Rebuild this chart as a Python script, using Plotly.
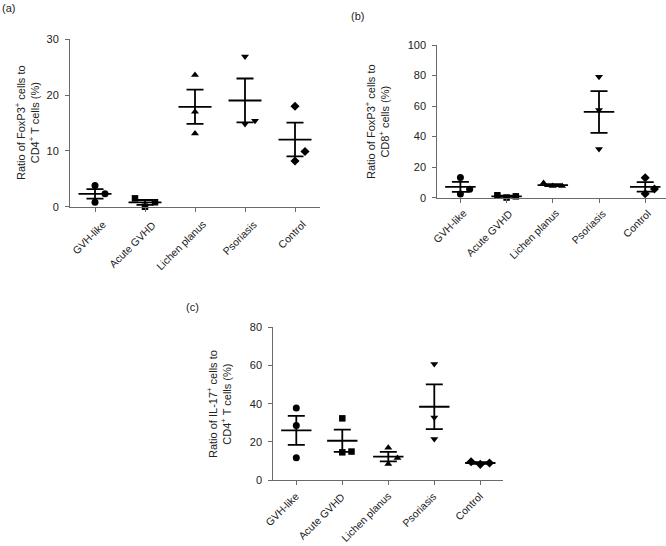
import numpy as np
import plotly.graph_objects as go

# ---------------- data ----------------
categories = ["GVH-like", "Acute GVHD", "Lichen planus", "Psoriasis", "Control"]

# (a) FoxP3+ / CD4+ T cells (%)
a_gvh = [3.8, 0.8, 2.3]
a_acute = [1.5, 0.0, 0.8]
a_lichen = [23.6, 17.0, 13.1]
a_psoriasis = [26.9, 14.8, 15.4]
a_control = [18.0, 9.9, 8.2]

# (b) FoxP3+ / CD8+ cells (%)
b_gvh = [13.3, 2.4, 5.5]
b_acute = [1.6, 0.1, 0.9]
b_lichen = [9.6, 7.6, 7.6]
b_psoriasis = [79.2, 57.4, 31.9]
b_control = [13.1, 2.6, 5.7]

# (c) IL-17+ / CD4+ T cells (%)
c_gvh = [37.7, 28.5, 11.7]
c_acute = [32.3, 14.5, 14.9]
c_lichen = [16.9, 8.4, 11.5]
c_psoriasis = [60.8, 32.8, 21.5]
c_control = [9.6, 8.2, 8.9]

a_ticks = [0, 10, 20, 30]
b_ticks = [0, 20, 40, 60, 80, 100]
c_ticks = [0, 20, 40, 60, 80]

# ---------------- styling (jitter, symbols) ----------------
symbols = ["circle", "square", "triangle-up", "triangle-down", "diamond"]
sizes = [7, 6.5, 7, 7, 7]
a_jit = [[0, 0, 0.2], [-0.2, 0, 0.2], [0, 0, 0], [0, 0, 0.2], [0, 0.2, 0]]
b_jit = [[0, 0, 0.2], [-0.2, 0, 0.2], [-0.2, 0, 0.2], [0, 0, 0], [0, 0, 0.2]]
c_jit = [[0, 0, 0], [0, 0, 0.2], [0, 0, 0.2], [0, 0, 0], [-0.2, 0, 0.2]]

FONT = "Liberation Sans, Arial, sans-serif"
AXC = "#6a6a6a"
W, H = 666, 546

fig = go.Figure()


def add_panel(groups, jit, xa, ya):
    xref = "x" if xa == "xaxis" else "x" + xa[5:]
    yref = "y" if ya == "yaxis" else "y" + ya[5:]
    for i, vals in enumerate(groups):
        vals = np.array(vals, dtype=float)
        xs = [i + j for j in jit[i]]
        fig.add_trace(go.Scatter(
            x=xs, y=vals, mode="markers", xaxis=xref, yaxis=yref,
            marker=dict(symbol=symbols[i], size=sizes[i], color="black"),
            cliponaxis=False, showlegend=False, hoverinfo="y"))
        m = vals.mean()
        sem = vals.std(ddof=1) / np.sqrt(len(vals))
        fig.add_trace(go.Scatter(
            x=[i - 0.33, i + 0.33], y=[m, m], mode="lines", xaxis=xref, yaxis=yref,
            line=dict(color="black", width=1.8), cliponaxis=False,
            showlegend=False, hoverinfo="skip"))
        fig.add_trace(go.Scatter(
            x=[i], y=[m], mode="markers", xaxis=xref, yaxis=yref,
            marker=dict(size=1, opacity=0),
            error_y=dict(type="data", array=[sem], width=8.5, thickness=1.8, color="black"),
            cliponaxis=False, showlegend=False, hoverinfo="skip"))


add_panel([a_gvh, a_acute, a_lichen, a_psoriasis, a_control], a_jit, "xaxis", "yaxis")
add_panel([b_gvh, b_acute, b_lichen, b_psoriasis, b_control], b_jit, "xaxis2", "yaxis2")
add_panel([c_gvh, c_acute, c_lichen, c_psoriasis, c_control], c_jit, "xaxis3", "yaxis3")


def xaxis(domain, rng, anchor):
    return dict(domain=domain, range=rng, anchor=anchor, tickmode="array",
                tickvals=list(range(len(categories))), ticktext=categories,
                showticklabels=False,
                ticks="outside", ticklen=4, tickcolor=AXC,
                showline=True, linecolor=AXC, linewidth=1, showgrid=False,
                zeroline=False, automargin=False)


def yaxis(domain, rng, ticks, anchor):
    return dict(domain=domain, range=rng, anchor=anchor, tickmode="array",
                tickvals=ticks, ticks="outside", ticklen=4, tickcolor=AXC,
                showline=True, linecolor=AXC, linewidth=1, showgrid=False,
                zeroline=False, ticklabelstandoff=4, automargin=False,
                tickfont=dict(family=FONT, size=11, color="#222"))


# axis bottoms in px (from top) for each panel
a_bot, b_bot, c_bot = 206.7, 197.7, 480.0

fig.update_layout(
    width=W, height=H, margin=dict(l=0, r=0, t=0, b=0, autoexpand=False),
    plot_bgcolor="white", paper_bgcolor="white",
    xaxis=xaxis([70 / W, 320 / W], [-0.5, 4.5], "y"),
    yaxis=yaxis([(H - a_bot) / H, (H - 39.3) / H], [0, 30], a_ticks, "x"),
    xaxis2=xaxis([437.3 / W, 1.0], [-0.5, 4.45], "y2"),
    yaxis2=yaxis([(H - b_bot) / H, (H - 45) / H], [0, 100], b_ticks, "x2"),
    xaxis3=xaxis([273.3 / W, 503.3 / W], [-0.5, 4.5], "y3"),
    yaxis3=yaxis([(H - c_bot) / H, (H - 327.3) / H], [0, 80], c_ticks, "x3"),
)

# rotated category labels, placed at each category of the axis
for xref, bot, dx, dy in [("x", a_bot, 13.5, 11.5), ("x2", b_bot, 8.5, 9.5), ("x3", c_bot, 5, 10)]:
    for i, cat in enumerate(categories):
        fig.add_annotation(text=cat, xref=xref, yref="paper", x=i, y=(H - bot) / H,
                           xshift=dx, yshift=-dy, xanchor="right", yanchor="top",
                           textangle=-45, showarrow=False, borderpad=0, borderwidth=0,
                           font=dict(family=FONT, size=10.5, color="#222"))

titles = [
    ("Ratio of FoxP3<sup>+</sup> cells to<br>CD4<sup>+</sup> T cells (%)", 27, 123),
    ("Ratio of FoxP3<sup>+</sup> cells to<br>CD8<sup>+</sup> cells (%)", 377, 121),
    ("Ratio of IL-17<sup>+</sup> cells to<br>CD4<sup>+</sup> T cells (%)", 219, 404),
]
for text, px, py in titles:
    fig.add_annotation(text=text, xref="paper", yref="paper", x=px / W, y=1 - py / H,
                       xanchor="center", yanchor="middle", textangle=-90, showarrow=False,
                       font=dict(family=FONT, size=11, color="#222"))

for text, px, py in [("(a)", 8, 8), ("(b)", 357, 16), ("(c)", 192, 307)]:
    fig.add_annotation(text=text, xref="paper", yref="paper", x=px / W, y=1 - py / H,
                       xanchor="center", yanchor="middle", showarrow=False,
                       font=dict(family=FONT, size=11, color="#222"))

fig.write_html("out.html", config={"displayModeBar": False},
               post_script="document.body.style.margin='0';document.body.style.overflow='hidden';")
